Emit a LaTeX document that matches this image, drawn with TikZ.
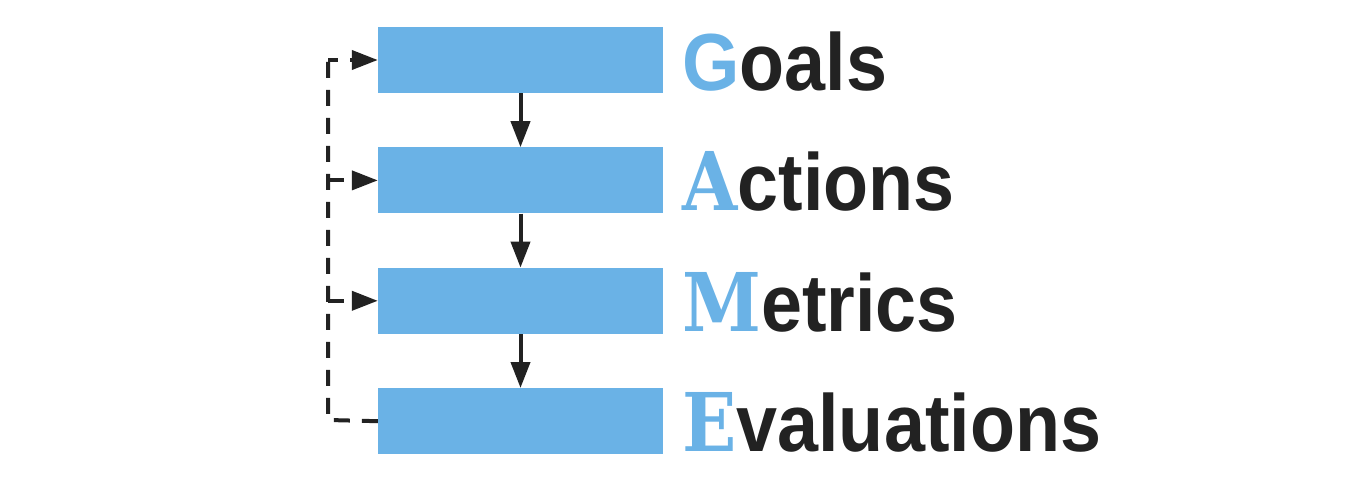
\documentclass[tikz,border=0pt]{standalone}
\usepackage{fontspec}
\setmainfont{Liberation Sans}[FakeStretch=0.91]
\newfontfamily\slabfont{DejaVu Serif}[FakeStretch=0.88]
\usepackage{tikz}
\usetikzlibrary{positioning,arrows.meta}
\definecolor{gamblue}{RGB}{106,178,230}
\definecolor{gamdark}{RGB}{34,34,34}

\begin{document}
\begin{tikzpicture}[x=1pt,y=-1pt,
  stagebox/.style={fill=gamblue, minimum width=285pt, minimum height=66pt, inner sep=0pt},
  stagelabel/.style={anchor=base west, inner sep=0pt, text=gamdark, font=\fontsize{81}{81}\selectfont\bfseries},
  flow/.style={line width=4pt, draw=gamdark, -{Triangle[length=26pt,width=19pt]}},
  loopback/.style={line width=4pt, draw=gamdark, dash pattern=on 16pt off 12pt}]
  \useasboundingbox (0,0) rectangle (1355,481);

  % Stages
  \node[stagebox] (goals) at (520.5,60) {};
  \node[stagebox, below=54pt of goals] (actions) {};
  \node[stagebox, below=54pt of actions] (metrics) {};
  \node[stagebox, below=54pt of metrics] (evals) {};

  % Labels
  \node[stagelabel] (goalsL) at (682,91) {\textcolor{gamblue}{G}oals};
  \node[stagelabel] (actionsL) at (682,211) {\textcolor{gamblue}{\slabfont A}ctions};
  \node[stagelabel] (metricsL) at (682,331) {\textcolor{gamblue}{\slabfont M}etrics};
  \node[stagelabel] (evalsL) at (682,451) {\textcolor{gamblue}{\slabfont E}valuations};

  % Forward arrows
  \draw[flow] (goals) -- (actions);
  \draw[flow] (actions) -- (metrics);
  \draw[flow] (metrics) -- (evals);

  % Feedback loop
  \coordinate (loopB) at (328,420);
  \coordinate (loopT) at (328,62);
  \draw[loopback] (evals.west) -- (loopB) -- (loopT);
  \draw[loopback, dash phase=6pt, -{Triangle[length=26pt,width=19pt]}] (loopT |- goals.west) -- (goals.west);
  \draw[loopback, -{Triangle[length=26pt,width=19pt]}] (loopT |- actions.west) -- (actions.west);
  \draw[loopback, -{Triangle[length=26pt,width=19pt]}] (loopT |- metrics.west) -- (metrics.west);
\end{tikzpicture}
\end{document}
